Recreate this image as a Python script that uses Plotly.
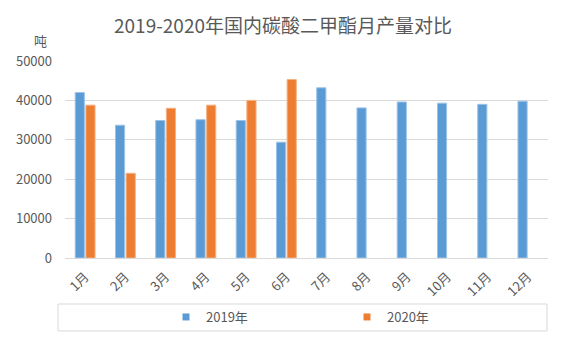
import plotly.graph_objects as go

months = ["1月", "2月", "3月", "4月", "5月", "6月", "7月", "8月", "9月", "10月", "11月", "12月"]
prod_2019 = [42000, 33700, 34900, 35100, 34900, 29400, 43200, 38100, 39600, 39300, 39000, 39800]
prod_2020 = [38800, 21500, 38000, 38800, 40000, 45300, None, None, None, None, None, None]
y_ticks = [0, 10000, 20000, 30000, 40000, 50000]
series_names = ["2019年", "2020年"]
series_colors = ["#5B9BD5", "#ED7D31"]
edge_colors = ["#9DC3E6", "#F4B183"]

W, H = 566, 340
L, R, T, B = 65, 18, 61, 82
pw, ph = W - L - R, H - T - B

def px_x(x):
    return (x - L) / pw

def px_y(y):
    return (H - B - y) / ph

font = "Noto Sans CJK SC, Microsoft YaHei, sans-serif"
grey = "#595959"

fig = go.Figure()
for vals, name, c, ec in zip([prod_2019, prod_2020], series_names, series_colors, edge_colors):
    fig.add_trace(go.Bar(x=months, y=vals, name=name, showlegend=False,
                         marker=dict(color=c, line=dict(color=ec, width=1))))
for name, c in zip(series_names, series_colors):
    fig.add_trace(go.Scatter(x=[None], y=[None], mode="markers", name=name,
                             marker=dict(symbol="square", size=7, color=c)))

fig.update_layout(
    width=W, height=H,
    margin=dict(l=L, r=R, t=T, b=B, autoexpand=False),
    paper_bgcolor="white", plot_bgcolor="white",
    font=dict(family=font, color=grey, size=12),
    barmode="group", bargap=0.47, bargroupgap=0.14,
    title=dict(text="2019-2020年国内碳酸二甲酯月产量对比", x=0.5, xanchor="center",
               y=1 - 26 / H, yanchor="middle",
               font=dict(size=19, color=grey, family=font)),
    xaxis=dict(type="category", tickangle=-45, showgrid=False, showline=True,
               linecolor="#D9D9D9", linewidth=1, ticks="", ticklabelstandoff=5,
               tickfont=dict(size=13, color=grey)),
    yaxis=dict(range=[0, 50000], tickvals=y_ticks, ticktext=[str(v) for v in y_ticks],
               showgrid=True, gridcolor="#D9D9D9", gridwidth=1, zeroline=False,
               showline=False, ticks="", ticklabelstandoff=12,
               tickfont=dict(size=13, color=grey)),
    showlegend=True,
    legend=dict(orientation="h", x=px_x(166), xanchor="left", y=px_y(317), yanchor="middle",
                entrywidth=136, entrywidthmode="pixels",
                font=dict(size=13, color=grey), bgcolor="rgba(0,0,0,0)"),
    shapes=[dict(type="rect", xref="paper", yref="paper",
                 x0=px_x(58), x1=px_x(547), y0=px_y(304), y1=px_y(331),
                 line=dict(color="#D9D9D9", width=1), fillcolor="rgba(0,0,0,0)")],
    annotations=[dict(text="吨", xref="paper", yref="paper", x=px_x(40), y=px_y(40),
                      xanchor="center", yanchor="middle", showarrow=False,
                      font=dict(size=13, color=grey))],
)

fig.write_html("out.html")
